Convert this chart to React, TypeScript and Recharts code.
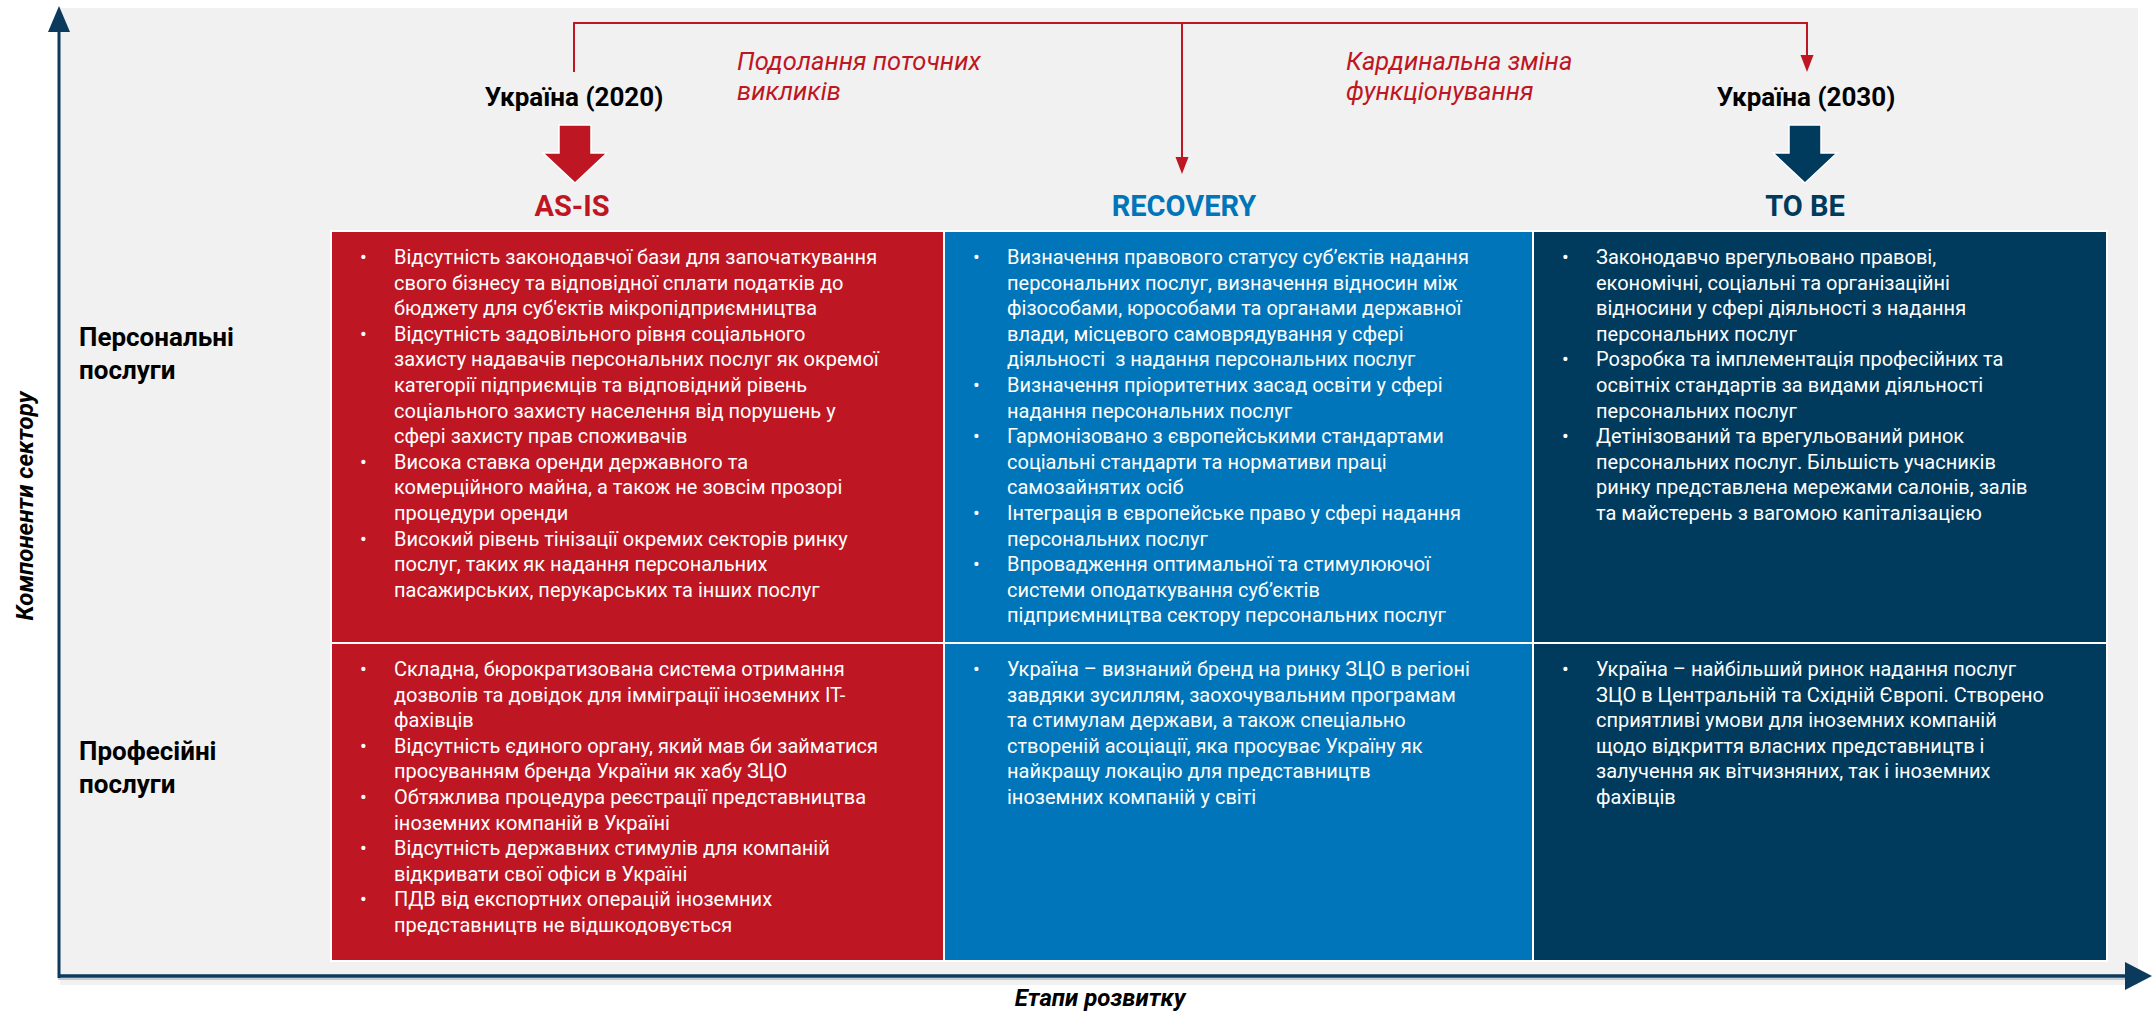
import React from "react";
import { ComposedChart, XAxis, YAxis, Customized } from "recharts";

// ---------- data ----------
const stages = ["AS-IS", "RECOVERY", "TO BE"];
const components = ["Персональні\nпослуги", "Професійні\nпослуги"];
const milestones = ["Україна (2020)", "Україна (2030)"];
const transitions = ["Подолання поточних\nвикликів", "Кардинальна зміна\nфункціонування"];
const yAxisTitle = "Компоненти сектору";
const xAxisTitle = "Етапи розвитку";

const asIsPersonal = [
  ["Відсутність законодавчої бази для започаткування", "свого бізнесу та відповідної сплати податків до", "бюджету для суб'єктів мікропідприємництва"],
  ["Відсутність задовільного рівня соціального", "захисту надавачів персональних послуг як окремої", "категорії підприємців та відповідний рівень", "соціального захисту населення від порушень у", "сфері захисту прав споживачів"],
  ["Висока ставка оренди державного та", "комерційного майна, а також не зовсім прозорі", "процедури оренди"],
  ["Високий рівень тінізації окремих секторів ринку", "послуг, таких як надання персональних", "пасажирських, перукарських та інших послуг"],
];
const recoveryPersonal = [
  ["Визначення правового статусу суб’єктів надання", "персональних послуг, визначення відносин між", "фізособами, юрособами та органами державної", "влади, місцевого самоврядування у сфері", "діяльності  з надання персональних послуг"],
  ["Визначення пріоритетних засад освіти у сфері", "надання персональних послуг"],
  ["Гармонізовано з європейськими стандартами", "соціальні стандарти та нормативи праці", "самозайнятих осіб"],
  ["Інтеграція в європейське право у сфері надання", "персональних послуг"],
  ["Впровадження оптимальної та стимулюючої", "системи оподаткування суб’єктів", "підприємництва сектору персональних послуг"],
];
const toBePersonal = [
  ["Законодавчо врегульовано правові,", "економічні, соціальні та організаційні", "відносини у сфері діяльності з надання", "персональних послуг"],
  ["Розробка та імплементація професійних та", "освітніх стандартів за видами діяльності", "персональних послуг"],
  ["Детінізований та врегульований ринок", "персональних послуг. Більшість учасників", "ринку представлена мережами салонів, залів", "та майстерень з вагомою капіталізацією"],
];
const asIsProfessional = [
  ["Складна, бюрократизована система отримання", "дозволів та довідок для імміграції іноземних IT-", "фахівців"],
  ["Відсутність єдиного органу, який мав би займатися", "просуванням бренда України як хабу ЗЦО"],
  ["Обтяжлива процедура реєстрації представництва", "іноземних компаній в Україні"],
  ["Відсутність державних стимулів для компаній", "відкривати свої офіси в Україні"],
  ["ПДВ від експортних операцій іноземних", "представництв не відшкодовується"],
];
const recoveryProfessional = [
  ["Україна – визнаний бренд на ринку ЗЦО в регіоні", "завдяки зусиллям, заохочувальним програмам", "та стимулам держави, а також спеціально", "створеній асоціації, яка просуває Україну як", "найкращу локацію для представництв", "іноземних компаній у світі"],
];
const toBeProfessional = [
  ["Україна – найбільший ринок надання послуг", "ЗЦО в Центральній та Східній Європі. Створено", "сприятливі умови для іноземних компаній", "щодо відкриття власних представництв і", "залучення як вітчизняних, так і іноземних", "фахівців"],
];

const cellTexts = [
  [asIsPersonal, recoveryPersonal, toBePersonal],
  [asIsProfessional, recoveryProfessional, toBeProfessional],
];

// ---------- page setup ----------
if (typeof document !== "undefined") {
  document.documentElement.style.overflow = "hidden";
  document.body.style.margin = "0";
  document.body.style.overflow = "hidden";
}

// ---------- layout / style ----------
const W = 2154;
const H = 1013;
const FONT = "Roboto, sans-serif";
const RED = "#BE1622";
const BLUE = "#0075B9";
const NAVY = "#003A5D";
const AXIS = "#0B3A5C";
const GREY = "#F1F1F1";
const stageColors = [RED, BLUE, NAVY];
const COLS = [
  { x1: 331, x2: 944 },
  { x1: 944, x2: 1533 },
  { x1: 1533, x2: 2107 },
];
const ROWS = [
  { y1: 231, y2: 643 },
  { y1: 643, y2: 961 },
];
const headerX = [572, 1184, 1805];
const LINE_H = 25.6;

function CellText({ x, y, bullets }: { x: number; y: number; bullets: string[][] }) {
  const out: any[] = [];
  let idx = 0;
  bullets.forEach((b, bi) => {
    b.forEach((line, li) => {
      const by = y + 33 + idx * LINE_H;
      if (li === 0) {
        out.push(
          <text key={`b${bi}`} x={x + 29} y={by} fill="#fff" fontSize={20}>
            •
          </text>
        );
      }
      out.push(
        <text key={`l${bi}-${li}`} x={x + 63} y={by} fill="#fff" fontSize={20} style={{ whiteSpace: "pre" }}>
          {line}
        </text>
      );
      idx++;
    });
  });
  return <g>{out}</g>;
}

function blockArrow(cx: number, color: string) {
  const pts = [
    [cx - 16, 125],
    [cx + 16, 125],
    [cx + 16, 153],
    [cx + 32, 153],
    [cx, 183],
    [cx - 32, 153],
    [cx - 16, 153],
  ]
    .map((p) => p.join(","))
    .join(" ");
  return <polygon points={pts} fill={color} stroke="#fff" strokeWidth={1.5} />;
}

function Overlay() {
  const [t1, t2] = transitions.map((t) => t.split("\n"));
  return (
    <g fontFamily={FONT}>
      {/* background */}
      <rect x={60} y={8} width={2078} height={977} fill={GREY} />

      {/* cells */}
      {ROWS.map((r, ri) =>
        COLS.map((c, ci) => (
          <g key={`${ri}-${ci}`}>
            <rect
              x={c.x1}
              y={r.y1}
              width={c.x2 - c.x1}
              height={r.y2 - r.y1}
              fill={stageColors[ci]}
              stroke="#fff"
              strokeWidth={2}
            />
            <CellText x={c.x1} y={r.y1} bullets={cellTexts[ri][ci]} />
          </g>
        ))
      )}

      {/* axes */}
      <line x1={59} y1={28} x2={59} y2={978} stroke={AXIS} strokeWidth={3} />
      <polygon points="59,6 48,32 70,32" fill={AXIS} />
      <line x1={58} y1={976} x2={2130} y2={976} stroke={AXIS} strokeWidth={3.5} />
      <line x1={58} y1={979} x2={2126} y2={979} stroke="#8FA3B3" strokeWidth={1} />
      <polygon points="2152,976 2125,962 2125,990" fill={AXIS} />
      <text
        transform="translate(25,506) rotate(-90)"
        textAnchor="middle"
        dominantBaseline="central"
        fontSize={24}
        fontWeight={700}
        fontStyle="italic"
        fill="#000"
      >
        {yAxisTitle}
      </text>
      <text x={1100} y={1006} textAnchor="middle" fontSize={24} fontWeight={700} fontStyle="italic" fill="#000">
        {xAxisTitle}
      </text>

      {/* row labels */}
      {components.map((c, i) =>
        c.split("\n").map((ln, j) => (
          <text key={`${i}-${j}`} x={79} y={(i === 0 ? 346 : 760) + j * 33} fontSize={26} fontWeight={700} fill="#000">
            {ln}
          </text>
        ))
      )}

      {/* stage headers */}
      {stages.map((s, i) => (
        <text key={s} x={headerX[i]} y={216} textAnchor="middle" fontSize={29} fontWeight={700} fill={stageColors[i]}>
          {s}
        </text>
      ))}

      {/* milestones */}
      <text x={574} y={106} textAnchor="middle" fontSize={26} fontWeight={700} fill="#000">
        {milestones[0]}
      </text>
      <text x={1806} y={106} textAnchor="middle" fontSize={26} fontWeight={700} fill="#000">
        {milestones[1]}
      </text>
      {blockArrow(575, RED)}
      {blockArrow(1805, NAVY)}

      {/* connector */}
      <path d="M574 72 V23 H1807 V58" fill="none" stroke={RED} strokeWidth={2} />
      <polygon points="1800.5,55 1813.5,55 1807,72" fill={RED} />
      <line x1={1182} y1={23} x2={1182} y2={160} stroke={RED} strokeWidth={2} />
      <polygon points="1175.5,157 1188.5,157 1182,174" fill={RED} />

      {/* transition labels */}
      {t1.map((ln, j) => (
        <text key={`a${j}`} x={737} y={70 + j * 29.5} fontSize={25.5} fontStyle="italic" fill={RED}>
          {ln}
        </text>
      ))}
      {t2.map((ln, j) => (
        <text key={`b${j}`} x={1346} y={70 + j * 29.5} fontSize={25.5} fontStyle="italic" fill={RED}>
          {ln}
        </text>
      ))}
    </g>
  );
}

export default function App() {
  const data = stages.map((name, i) => ({ name, i }));
  return (
    <div style={{ width: W, height: H, overflow: "hidden" }}>
      <ComposedChart width={W} height={H} data={data} margin={{ top: 0, right: 0, bottom: 0, left: 0 }}>
        <XAxis type="number" dataKey="i" domain={[0, W]} hide />
        <YAxis type="number" domain={[0, H]} reversed hide />
        <Customized component={<Overlay />} />
      </ComposedChart>
    </div>
  );
}
